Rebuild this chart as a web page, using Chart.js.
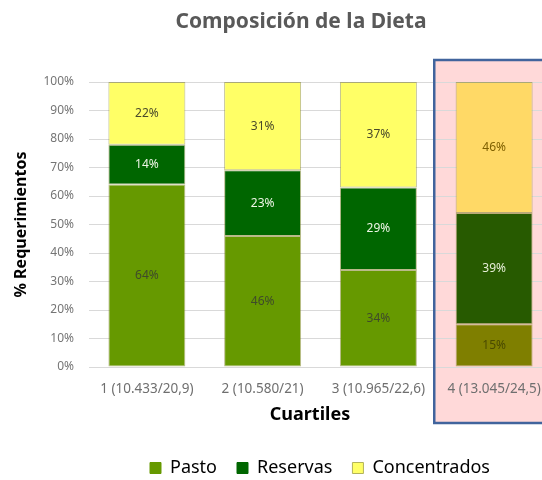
<!DOCTYPE html>
<html>
<head>
<meta charset="utf-8">
<script src="https://cdn.jsdelivr.net/npm/chart.js@4"></script>
<style>
  html, body { margin: 0; padding: 0; background: #fff; }
  #wrap { width: 542px; height: 480px; overflow: hidden; position: relative; }
  #chart { position: absolute; left: 0; top: 0; }
</style>
</head>
<body>
<div id="wrap">
  <canvas id="chart" width="640" height="480"></canvas>
</div>
<script>
const FONT = "'Noto Sans', sans-serif";

/* ================= DATA ================= */
const categories = ["1 (10.433/20,9)", "2 (10.580/21)", "3 (10.965/22,6)", "4 (13.045/24,5)"];
const seriesNames = ["Pasto", "Reservas", "Concentrados"];
const pasto = [64, 46, 34, 15];
const reservas = [14, 23, 29, 39];
const concentrados = [22, 31, 37, 46];
const yTicks = [0, 10, 20, 30, 40, 50, 60, 70, 80, 90, 100];

// colours: normal bars, and the highlighted 4th quartile
const fillMain = ["#669900", "#006600", "#ffff66"];
const fillHigh = ["#7f7f00", "#275a00", "#ffd966"];
const labelMain = ["#3f4a2a", "#eef6e6", "#4a4a2a"];
const labelHigh = ["#4a4a00", "#e6eed6", "#7f6000"];
const HIGHLIGHT = 3;

function makeSet(i, values) {
    return {
        label: seriesNames[i],
        data: values,
        backgroundColor: ctx => ctx.dataIndex === HIGHLIGHT ? fillHigh[i] : fillMain[i],
        borderColor: "rgba(130,130,40,0.55)",
        borderWidth: 1,
        borderSkipped: false,
        barPercentage: 0.665,
        categoryPercentage: 1
    };
}

/* ================= PLUGINS ================= */
const highlightBox = {
    id: "highlightBox",
    afterLayout(chart) {
        // legend is centred on the whole figure, not on the (cropped) plot
        const lg = chart.legend;
        if (lg) {
            lg.left = 0;
            lg.right = chart.width;
            lg.top += 7;
            lg.bottom += 7;
        }
    },
    beforeDraw(chart) {
        const { ctx, scales: { x, y } } = chart;
        const left = (x.getPixelForValue(2) + x.getPixelForValue(3)) / 2 - 2;
        ctx.save();
        ctx.fillStyle = "#ffd9d9";
        ctx.fillRect(left, y.top - 22, chart.width, y.bottom - y.top + 78);
        ctx.restore();
    },
    afterDraw(chart) {
        const { ctx, scales: { x, y } } = chart;
        const left = (x.getPixelForValue(2) + x.getPixelForValue(3)) / 2 - 2;
        ctx.save();
        ctx.strokeStyle = "#41649d";
        ctx.lineWidth = 2.5;
        ctx.strokeRect(left, y.top - 22, chart.width, y.bottom - y.top + 78);

        // title and x-axis title
        ctx.fillStyle = "#595959";
        ctx.font = "bold 21px " + FONT;
        ctx.textAlign = "center";
        ctx.textBaseline = "alphabetic";
        ctx.fillText("Composición de la Dieta", 301, 28);

        ctx.fillStyle = "#000";
        ctx.font = "bold 18px " + FONT;
        ctx.fillText("Cuartiles", 310, 420);
        ctx.restore();
    }
};

const barLabels = {
    id: "barLabels",
    afterDatasetsDraw(chart) {
        const ctx = chart.ctx;
        ctx.save();
        ctx.font = "12px " + FONT;
        ctx.textAlign = "center";
        ctx.textBaseline = "middle";
        chart.data.datasets.forEach((ds, i) => {
            chart.getDatasetMeta(i).data.forEach((el, j) => {
                ctx.fillStyle = j === HIGHLIGHT ? labelHigh[i] : labelMain[i];
                ctx.fillText(ds.data[j] + "%", el.x, (el.y + el.base) / 2);
            });
        });
        ctx.restore();
    }
};

/* ================= CHART ================= */
new Chart(document.getElementById("chart"), {
    type: "bar",
    data: {
        labels: categories,
        datasets: [makeSet(0, pasto), makeSet(1, reservas), makeSet(2, concentrados)]
    },
    options: {
        responsive: false,
        animation: false,
        layout: { padding: { top: 82, right: 88, left: 0, bottom: 0 } },
        plugins: {
            title: { display: false },
            tooltip: { enabled: false },
            legend: {
                position: "bottom",
                labels: {
                    font: { family: FONT, size: 18 },
                    color: "#595959",
                    boxWidth: 11,
                    boxHeight: 11,
                    padding: 20,
                    generateLabels: chart => seriesNames.map((n, i) => ({
                        text: n,
                        fillStyle: fillMain[i],
                        strokeStyle: i === 2 ? "#b3b35a" : fillMain[i],
                        lineWidth: 1,
                        datasetIndex: i
                    }))
                }
            }
        },
        scales: {
            x: {
                stacked: true,
                grid: { display: false },
                border: { display: false },
                ticks: { color: "#6f6f6f", font: { family: FONT, size: 13.5 }, padding: 6, maxRotation: 0, autoSkip: false },
                afterFit: s => { s.height = s.chart.height - 367 - (s.chart.legend ? s.chart.legend.height : 0); }
            },
            y: {
                stacked: true,
                min: 0,
                max: 100,
                afterBuildTicks: s => { s.ticks = yTicks.map(v => ({ value: v })); },
                grid: { color: "#d9d9d9", drawTicks: false },
                border: { display: false },
                ticks: {
                    color: "#757575",
                    font: { family: FONT, size: 12 },
                    padding: 15,
                    callback: v => v + "%"
                },
                title: {
                    display: true,
                    text: "% Requerimientos",
                    color: "#000",
                    font: { family: FONT, size: 16, weight: "bold" },
                    padding: { top: 12, bottom: 0 }
                },
                afterFit: s => { s.width = 89; }
            }
        }
    },
    plugins: [highlightBox, barLabels]
});
</script>
</body>
</html>
